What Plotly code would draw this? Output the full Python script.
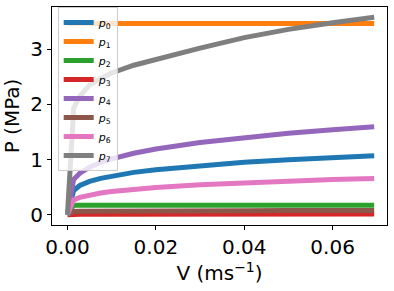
import plotly.graph_objects as go

# Velocity samples (m/s)
V = [0.0, 0.0014, 0.0028, 0.005, 0.0075, 0.01, 0.015, 0.02, 0.03, 0.04, 0.05, 0.06, 0.0694]

# Pressure (MPa) for each series
p0 = [0.0, 0.44, 0.53, 0.605, 0.66, 0.703, 0.768, 0.817, 0.892, 0.95, 0.997, 1.037, 1.071]
p1 = [3.465] * 13
p2 = [0.0, 0.172, 0.172, 0.172, 0.172, 0.172, 0.173, 0.173, 0.173, 0.173, 0.174, 0.174, 0.174]
p3 = [0.0, 0.010, 0.010, 0.010, 0.010, 0.011, 0.011, 0.011, 0.011, 0.012, 0.012, 0.012, 0.012]
p4 = [0.0, 0.64, 0.752, 0.862, 0.947, 1.013, 1.114, 1.192, 1.31, 1.401, 1.476, 1.541, 1.595]
p5 = [0.0, 0.060, 0.062, 0.064, 0.066, 0.067, 0.069, 0.070, 0.072, 0.074, 0.075, 0.076, 0.077]
p6 = [0.0, 0.27, 0.315, 0.36, 0.395, 0.422, 0.463, 0.495, 0.543, 0.581, 0.611, 0.637, 0.659]
p7 = [0.0, 1.93, 2.15, 2.35, 2.47, 2.57, 2.71, 2.82, 3.02, 3.21, 3.36, 3.48, 3.58]

series = [p0, p1, p2, p3, p4, p5, p6, p7]
names = ["<i>p</i><sub>%d</sub>" % i for i in range(8)]
colors = ["#1f77b4", "#ff7f0e", "#2ca02c", "#d62728",
          "#9467bd", "#8c564b", "#e377c2", "#7f7f7f"]

x_ticks = [0.0, 0.02, 0.04, 0.06]
x_tick_text = ["0.00", "0.02", "0.04", "0.06"]
y_ticks = [0, 1, 2, 3]

FONT = "DejaVu Sans"

fig = go.Figure()
for ys, nm, c in zip(series, names, colors):
    fig.add_trace(go.Scatter(x=V, y=ys, mode="lines", name=nm,
                             line=dict(color=c, width=5)))

axis_common = dict(showline=True, mirror=True, linecolor="black", linewidth=1,
                   ticks="outside", ticklen=4, tickcolor="black", tickwidth=1,
                   showgrid=False, zeroline=False, automargin=False,
                   tickfont=dict(family=FONT, size=20, color="black"))

fig.update_xaxes(range=[-0.0035, 0.0723], tickvals=x_ticks, ticktext=x_tick_text,
                 title=dict(text="V (ms<sup>−1</sup>)", standoff=0,
                            font=dict(family=FONT, size=20, color="black")),
                 **axis_common)
fig.update_yaxes(range=[-0.186, 3.765], tickvals=y_ticks,
                 title=dict(text="P (MPa)",
                            font=dict(family=FONT, size=20, color="black")),
                 **axis_common)

fig.update_layout(
    width=394, height=291, autosize=False,
    margin=dict(l=52, r=7, t=7, b=66),
    plot_bgcolor="white", paper_bgcolor="white",
    font=dict(family=FONT, color="black"),
    legend=dict(x=0.017, y=1.0, xanchor="left", yanchor="top",
                bgcolor="rgba(255,255,255,0.8)", bordercolor="#cccccc", borderwidth=1,
                font=dict(family=FONT, size=11, color="black"),
                itemwidth=30, tracegroupgap=0),
    showlegend=True,
)

fig.write_html(
    "out.html",
    config={"displayModeBar": False},
    post_script="document.body.style.margin='0';document.body.style.padding='0';"
                "document.body.style.overflow='hidden';",
)
